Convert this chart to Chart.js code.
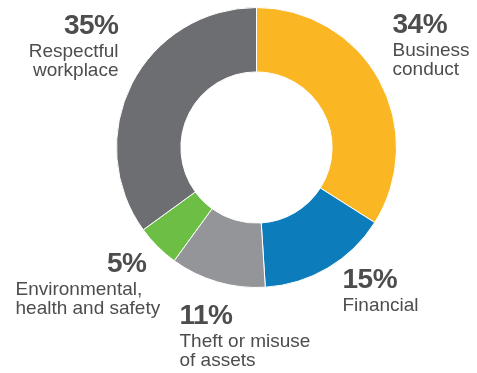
<!DOCTYPE html>
<html>
<head>
<meta charset="utf-8">
<script src="https://cdn.jsdelivr.net/npm/chart.js@4"></script>
<style>
  html, body { margin: 0; padding: 0; background: #fff; }
  #wrap { width: 477px; height: 373px; position: relative; }
</style>
</head>
<body>
<div id="wrap"><canvas id="grafico" width="477" height="373"></canvas></div>
<script>
const categorias = ["Business conduct", "Financial", "Theft or misuse of assets", "Environmental, health and safety", "Respectful workplace"];
const valores = [34, 15, 11, 5, 35];
const cores = ["#fbb623", "#0c7cba", "#939598", "#6dbe45", "#6d6e71"];

// linhas de cada rótulo, na mesma ordem das categorias
const linhasRotulo = [
    ["Business", "conduct"],
    ["Financial"],
    ["Theft or misuse", "of assets"],
    ["Environmental,", "health and safety"],
    ["Respectful", "workplace"]
];

// posição dos rótulos relativa ao centro do anel (dx, dy da linha de base do %)
const layoutRotulos = [
    { dx: 136, dy: -115, align: "left" },
    { dx: 86, dy: 140, align: "left" },
    { dx: -77, dy: 176, align: "left" },
    { dx: -110, dy: 124, align: "right", textoX: -241, textoAlign: "left" },
    { dx: -138, dy: -114, align: "right" }
];

const corTexto = "#4d4d4f";

const rotulosPlugin = {
    id: "rotulos",
    afterDraw(chart) {
        const ctx = chart.ctx;
        const arco = chart.getDatasetMeta(0).data[0];
        const cx = arco.x, cy = arco.y;
        ctx.save();
        ctx.fillStyle = corTexto;
        ctx.textBaseline = "alphabetic";
        valores.forEach((v, i) => {
            const l = layoutRotulos[i];
            const x = cx + l.dx;
            const y = cy + l.dy;
            ctx.font = "bold 28px 'Liberation Sans', Arial, sans-serif";
            ctx.letterSpacing = "-0.5px";
            ctx.textAlign = l.align;
            ctx.fillText(v + "%", x, y);
            ctx.letterSpacing = "0px";
            ctx.font = "19px 'Liberation Sans', Arial, sans-serif";
            const tx = l.textoX !== undefined ? cx + l.textoX : x;
            ctx.textAlign = l.textoAlign || l.align;
            linhasRotulo[i].forEach((linha, j) => {
                ctx.fillText(linha, tx, y + 23 + j * 19);
            });
        });
        ctx.restore();
    }
};

new Chart(document.getElementById("grafico"), {
    type: "doughnut",
    data: {
        labels: categorias,
        datasets: [{
            data: valores,
            backgroundColor: cores,
            borderColor: "#ffffff",
            borderWidth: 1,
            hoverOffset: 0
        }]
    },
    options: {
        responsive: false,
        animation: false,
        cutout: "54%",
        layout: { padding: { left: 116, right: 80, top: 7, bottom: 85 } },
        plugins: {
            legend: { display: false },
            tooltip: { enabled: false }
        }
    },
    plugins: [rotulosPlugin]
});
</script>
</body>
</html>
